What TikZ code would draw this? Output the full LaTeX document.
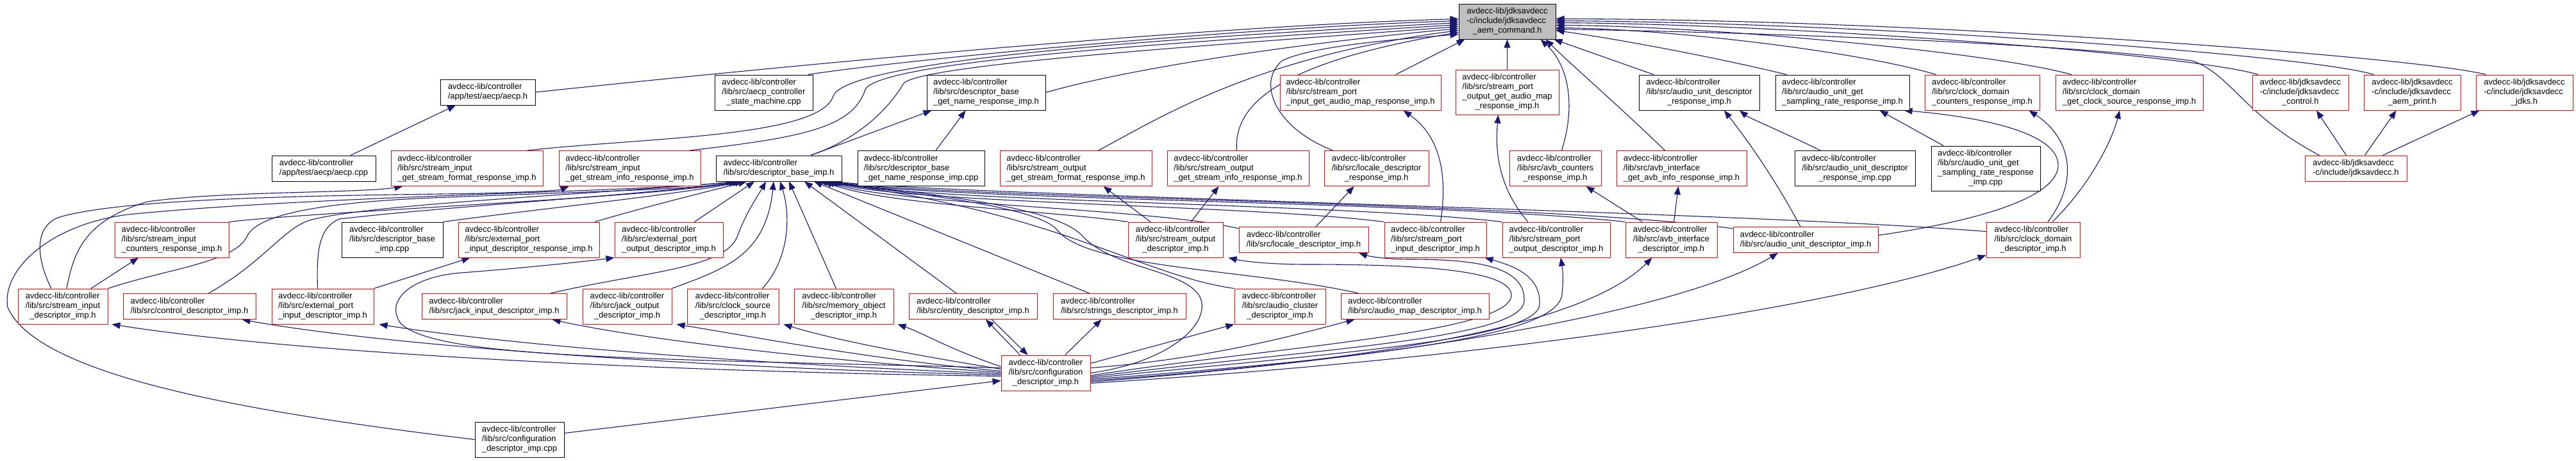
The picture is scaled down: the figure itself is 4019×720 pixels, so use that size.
\documentclass[tikz,border=0pt]{standalone}
\usepackage{fontspec}
\setmainfont{Liberation Sans}
\usetikzlibrary{arrows.meta,calc}
\pgfdeclarelayer{back}
\pgfdeclarelayer{edges}
\pgfsetlayers{back,edges,main}
\definecolor{edgeblue}{RGB}{25,25,112}
\definecolor{nodegray}{RGB}{191,191,191}
\definecolor{dxred}{RGB}{255,0,0}
\newcommand\dxl[2]{\begin{tabular}{@{}l@{}}#1\\\multicolumn{1}{@{}c@{}}{#2}\end{tabular}}
\begin{document}
\begin{tikzpicture}[x=1pt,y=-1pt,
  nd/.style={draw,rectangle,inner sep=0pt,line width=1pt,fill=white,font=\fontsize{13}{15}\selectfont},
  rn/.style={nd,draw=dxred},
  bn/.style={nd,draw=black},
  dep/.style={draw=edgeblue,line width=1.1pt,-{Triangle[length=13pt,width=10pt]}}]
\begin{pgfonlayer}{back}
\fill[white] (0,0) rectangle (4019,720);
\end{pgfonlayer}
\useasboundingbox (0,0) rectangle (4019,720);

% ---------- nodes ----------
\node[bn,fill=nodegray,minimum width=151pt,minimum height=55pt] (R) at (2351.5,33.5) {\dxl{avdecc-lib/jdksavdecc\\-c/include/jdksavdecc}{\_aem\_command.h}};

\node[bn,minimum width=148pt,minimum height=40pt] (aecph) at (761,144) {\dxl{avdecc-lib/controller}{/app/test/aecp/aecp.h}};
\node[bn,minimum width=153pt,minimum height=55pt] (aecpsm) at (1191.5,144.5) {\dxl{avdecc-lib/controller\\/lib/src/aecp\_controller}{\_state\_machine.cpp}};
\node[bn,minimum width=185pt,minimum height=55pt] (dbgn) at (1538.5,144.5) {\dxl{avdecc-lib/controller\\/lib/src/descriptor\_base}{\_get\_name\_response\_imp.h}};
\node[rn,minimum width=251pt,minimum height=55pt] (spigam) at (2122.5,144.5) {\dxl{avdecc-lib/controller\\/lib/src/stream\_port}{\_input\_get\_audio\_map\_response\_imp.h}};
\node[rn,minimum width=161pt,minimum height=70pt] (spogam) at (2351.5,144) {\dxl{avdecc-lib/controller\\/lib/src/stream\_port\\\_output\_get\_audio\_map}{\_response\_imp.h}};
\node[bn,minimum width=188pt,minimum height=55pt] (audresp) at (2651,144.5) {\dxl{avdecc-lib/controller\\/lib/src/audio\_unit\_descriptor}{\_response\_imp.h}};
\node[bn,minimum width=209pt,minimum height=55pt] (ausr) at (2874.5,144.5) {\dxl{avdecc-lib/controller\\/lib/src/audio\_unit\_get}{\_sampling\_rate\_response\_imp.h}};
\node[rn,minimum width=179pt,minimum height=55pt] (cdc) at (3092.5,144.5) {\dxl{avdecc-lib/controller\\/lib/src/clock\_domain}{\_counters\_response\_imp.h}};
\node[rn,minimum width=230pt,minimum height=55pt] (cdgcs) at (3322,144.5) {\dxl{avdecc-lib/controller\\/lib/src/clock\_domain}{\_get\_clock\_source\_response\_imp.h}};
\node[rn,minimum width=150pt,minimum height=55pt] (ctrl) at (3589,144.5) {\dxl{avdecc-lib/jdksavdecc\\-c/include/jdksavdecc}{\_control.h}};
\node[rn,minimum width=151pt,minimum height=55pt] (aemp) at (3763.5,144.5) {\dxl{avdecc-lib/jdksavdecc\\-c/include/jdksavdecc}{\_aem\_print.h}};
\node[rn,minimum width=151pt,minimum height=55pt] (jdks) at (3938.5,144.5) {\dxl{avdecc-lib/jdksavdecc\\-c/include/jdksavdecc}{\_jdks.h}};

\node[bn,minimum width=162pt,minimum height=40pt] (aecpcpp) at (505,263) {\dxl{avdecc-lib/controller}{/app/test/aecp/aecp.cpp}};
\node[rn,minimum width=237pt,minimum height=55pt] (sigsf) at (728.5,263) {\dxl{avdecc-lib/controller\\/lib/src/stream\_input}{\_get\_stream\_format\_response\_imp.h}};
\node[rn,minimum width=221pt,minimum height=55pt] (sigsi) at (982.5,263) {\dxl{avdecc-lib/controller\\/lib/src/stream\_input}{\_get\_stream\_info\_response\_imp.h}};
\node[bn,minimum width=196pt,minimum height=40pt] (dbi) at (1215,263) {\dxl{avdecc-lib/controller}{/lib/src/descriptor\_base\_imp.h}};
\node[bn,minimum width=198pt,minimum height=55pt] (dbgncpp) at (1437,263) {\dxl{avdecc-lib/controller\\/lib/src/descriptor\_base}{\_get\_name\_response\_imp.cpp}};
\node[rn,minimum width=237pt,minimum height=55pt] (sogsf) at (1678.5,263) {\dxl{avdecc-lib/controller\\/lib/src/stream\_output}{\_get\_stream\_format\_response\_imp.h}};
\node[rn,minimum width=221pt,minimum height=55pt] (sogsi) at (1931.5,263) {\dxl{avdecc-lib/controller\\/lib/src/stream\_output}{\_get\_stream\_info\_response\_imp.h}};
\node[rn,minimum width=163pt,minimum height=55pt] (ldr) at (2147.5,263) {\dxl{avdecc-lib/controller\\/lib/src/locale\_descriptor}{\_response\_imp.h}};
\node[rn,minimum width=143pt,minimum height=55pt] (avbc) at (2426.5,263) {\dxl{avdecc-lib/controller\\/lib/src/avb\_counters}{\_response\_imp.h}};
\node[rn,minimum width=203pt,minimum height=55pt] (avbi) at (2623.5,263) {\dxl{avdecc-lib/controller\\/lib/src/avb\_interface}{\_get\_avb\_info\_response\_imp.h}};
\node[bn,minimum width=188pt,minimum height=55pt] (audrespcpp) at (2894,263) {\dxl{avdecc-lib/controller\\/lib/src/audio\_unit\_descriptor}{\_response\_imp.cpp}};
\node[bn,minimum width=170pt,minimum height=70pt] (ausrcpp) at (3098,263) {\dxl{avdecc-lib/controller\\/lib/src/audio\_unit\_get\\\_sampling\_rate\_response}{\_imp.cpp}};
\node[rn,minimum width=159pt,minimum height=40pt] (jdksavdecc) at (3675.5,263) {\dxl{avdecc-lib/jdksavdecc}{-c/include/jdksavdecc.h}};

\node[rn,minimum width=178pt,minimum height=55pt] (sicr) at (268,374.5) {\dxl{avdecc-lib/controller\\/lib/src/stream\_input}{\_counters\_response\_imp.h}};
\node[bn,minimum width=158pt,minimum height=55pt] (dbcpp) at (612,374.5) {\dxl{avdecc-lib/controller\\/lib/src/descriptor\_base}{\_imp.cpp}};
\node[rn,minimum width=220pt,minimum height=55pt] (epidr) at (825,374.5) {\dxl{avdecc-lib/controller\\/lib/src/external\_port}{\_input\_descriptor\_response\_imp.h}};
\node[rn,minimum width=169pt,minimum height=55pt] (epod) at (1043.5,374.5) {\dxl{avdecc-lib/controller\\/lib/src/external\_port}{\_output\_descriptor\_imp.h}};
\node[rn,minimum width=148pt,minimum height=55pt] (sod) at (1834,374.5) {\dxl{avdecc-lib/controller\\/lib/src/stream\_output}{\_descriptor\_imp.h}};
\node[rn,minimum width=202pt,minimum height=40pt] (ldi) at (2034,374.5) {\dxl{avdecc-lib/controller}{/lib/src/locale\_descriptor\_imp.h}};
\node[rn,minimum width=159pt,minimum height=55pt] (spid) at (2239.5,374.5) {\dxl{avdecc-lib/controller\\/lib/src/stream\_port}{\_input\_descriptor\_imp.h}};
\node[rn,minimum width=168pt,minimum height=55pt] (spod) at (2428,374.5) {\dxl{avdecc-lib/controller\\/lib/src/stream\_port}{\_output\_descriptor\_imp.h}};
\node[rn,minimum width=143pt,minimum height=55pt] (aid) at (2607.5,374.5) {\dxl{avdecc-lib/controller\\/lib/src/avb\_interface}{\_descriptor\_imp.h}};
\node[rn,minimum width=226pt,minimum height=40pt] (aud) at (2817,374.5) {\dxl{avdecc-lib/controller}{/lib/src/audio\_unit\_descriptor\_imp.h}};
\node[rn,minimum width=146pt,minimum height=55pt] (cdd) at (3172,374.5) {\dxl{avdecc-lib/controller\\/lib/src/clock\_domain}{\_descriptor\_imp.h}};

\node[rn,minimum width=140pt,minimum height=55pt] (sid) at (98,478.5) {\dxl{avdecc-lib/controller\\/lib/src/stream\_input}{\_descriptor\_imp.h}};
\node[rn,minimum width=207pt,minimum height=40pt] (ctl) at (295.5,478.5) {\dxl{avdecc-lib/controller}{/lib/src/control\_descriptor\_imp.h}};
\node[rn,minimum width=159pt,minimum height=55pt] (epid) at (503.5,478.5) {\dxl{avdecc-lib/controller\\/lib/src/external\_port}{\_input\_descriptor\_imp.h}};
\node[rn,minimum width=226pt,minimum height=40pt] (jid) at (771,478.5) {\dxl{avdecc-lib/controller}{/lib/src/jack\_input\_descriptor\_imp.h}};
\node[rn,minimum width=139pt,minimum height=55pt] (jod) at (978.5,478.5) {\dxl{avdecc-lib/controller\\/lib/src/jack\_output}{\_descriptor\_imp.h}};
\node[rn,minimum width=143pt,minimum height=55pt] (csd) at (1143.5,478.5) {\dxl{avdecc-lib/controller\\/lib/src/clock\_source}{\_descriptor\_imp.h}};
\node[rn,minimum width=155pt,minimum height=55pt] (mod) at (1316.5,478.5) {\dxl{avdecc-lib/controller\\/lib/src/memory\_object}{\_descriptor\_imp.h}};
\node[rn,minimum width=200pt,minimum height=40pt] (ed) at (1518,478.5) {\dxl{avdecc-lib/controller}{/lib/src/entity\_descriptor\_imp.h}};
\node[rn,minimum width=207pt,minimum height=40pt] (sd) at (1746.5,478.5) {\dxl{avdecc-lib/controller}{/lib/src/strings\_descriptor\_imp.h}};
\node[rn,minimum width=142pt,minimum height=55pt] (acd) at (1997,478.5) {\dxl{avdecc-lib/controller\\/lib/src/audio\_cluster}{\_descriptor\_imp.h}};
\node[rn,minimum width=231pt,minimum height=40pt] (amd) at (2207.5,478.5) {\dxl{avdecc-lib/controller}{/lib/src/audio\_map\_descriptor\_imp.h}};

\node[rn,minimum width=139pt,minimum height=55pt] (config) at (1631.5,582.5) {\dxl{avdecc-lib/controller\\/lib/src/configuration}{\_descriptor\_imp.h}};
\node[bn,minimum width=139pt,minimum height=55pt] (configcpp) at (810.5,686.5) {\dxl{avdecc-lib/controller\\/lib/src/configuration}{\_descriptor\_imp.cpp}};

% ---------- edges ----------
\begin{pgfonlayer}{edges}
% into root, west side
\draw[dep] (aecph.east) .. controls (1300,95) and (1900,40) .. ($(R.west)+(0,-4)$);
\draw[dep] ($(aecpsm.north east)+(-8,0)$) .. controls (1400,95) and (1900,45) .. ($(R.west)+(0,-1)$);
\draw[dep] ($(sigsf.north east)+(-25,0)$) .. controls (1000,215) and (1280,215) .. (1300,150) .. controls (1320,95) and (1800,60) .. ($(R.west)+(0,2)$);
\draw[dep] ($(sigsi.north east)+(-18,0)$) .. controls (1250,215) and (1330,200) .. (1350,140) .. controls (1370,95) and (1850,65) .. ($(R.west)+(0,5)$);
\draw[dep] ($(dbi.north)+(50,0)$) .. controls (1330,220) and (1380,180) .. (1410,130) .. controls (1440,100) and (1900,70) .. ($(R.west)+(0,8)$);
\draw[dep] (dbgn.east) .. controls (1750,110) and (2000,70) .. ($(R.west)+(0,11)$);
\draw[dep] ($(sogsf.north)+(35,0)$) .. controls (1800,190) and (1950,90) .. ($(R.west)+(0,14)$);
\draw[dep] ($(sogsi.north)+(-2,0)$) .. controls (1925,170) and (1980,100) .. ($(R.west)+(0,17)$);
\draw[dep] ($(ldr.north)+(-68,0)$) .. controls (1990,200) and (1960,130) .. (2000,95) .. controls (2050,70) and (2200,60) .. ($(R.west)+(0,20)$);
% into root, bottom
\draw[dep] ($(spigam.north)+(55,0)$) -- ($(R.south west)+(10,0)$);
\draw[dep] (spogam) -- (R);
\draw[dep] ($(avbc.north)+(10,0)$) .. controls (2460,160) and (2445,100) .. ($(R.south)+(52,0)$);
\draw[dep] ($(avbi.north)+(-26,0)$) .. controls (2520,160) and (2450,100) .. ($(R.south)+(60,0)$);
\draw[dep] ($(audresp.north)+(-71,0)$) -- ($(R.south east)+(-3,0)$);
% into root, east side
\draw[dep] ($(ausr.north)+(-87,0)$) .. controls (2700,95) and (2550,65) .. ($(R.east)+(0,14)$);
\draw[dep] ($(cdc.north)+(-72,0)$) .. controls (2900,80) and (2600,45) .. ($(R.east)+(0,10)$);
\draw[dep] ($(cdgcs.north)+(-90,0)$) .. controls (3100,80) and (2650,40) .. ($(R.east)+(0,6)$);
\draw[dep] ($(ctrl.north)+(-66,0)$) .. controls (3420,85) and (2800,38) .. ($(R.east)+(0,2)$);
\draw[dep] ($(aemp.north)+(-60,0)$) .. controls (3600,85) and (2900,35) .. ($(R.east)+(0,-1)$);
\draw[dep] ($(jdks.north)+(-60,0)$) .. controls (3780,90) and (3000,30) .. ($(R.east)+(0,-4)$);
\draw[dep] ($(jdksavdecc.north)+(-57,0)$) .. controls (3500,180) and (3480,115) .. (3420,95) .. controls (3200,65) and (2700,50) .. ($(R.east)+(0,12)$);

% upper level
\draw[dep] ($(aecpcpp.north)+(42,0)$) -- ($(aecph.south)+(-50,0)$);
\draw[dep] ($(dbi.north)+(50,0)$) -- ($(dbgn.south)+(-85,0)$);
\draw[dep] ($(dbgncpp.north)+(23,0)$) -- ($(dbgn.south)+(-32,0)$);
\draw[dep] ($(sod.north)+(-39,0)$) -- ($(sogsf.south)+(43,0)$);
\draw[dep] ($(sod.north)+(24,0)$) -- ($(sogsi.south)+(-30,0)$);
\draw[dep] ($(ldi.north)+(19,0)$) -- ($(ldr.south)+(-35,0)$);
\draw[dep] ($(spid.north)+(8,0)$) .. controls (2258,280) and (2250,215) .. ($(spigam.south)+(67,0)$);
\draw[dep] ($(spod.north)+(-44,0)$) .. controls (2335,290) and (2333,230) .. ($(spogam.south)+(-14,0)$);
\draw[dep] ($(aid.north)+(-45,0)$) -- ($(avbc.south)+(48,0)$);
\draw[dep] ($(aid.north)+(4,0)$) -- ($(avbi.south)+(-5,0)$);
\draw[dep] ($(aud.north)+(-8,0)$) .. controls (2775,290) and (2735,230) .. ($(audresp.south)+(39,0)$);
\draw[dep] ($(audrespcpp.north)+(-54,0)$) .. controls (2790,210) and (2730,185) .. ($(audresp.south)+(63,0)$);
\draw[dep] ($(ausrcpp.north)+(-66,0)$) -- ($(ausr.south)+(58,0)$);
\draw[dep] ($(aud.east)+(0,-7)$) .. controls (3120,340) and (3215,300) .. (3211,255) .. controls (3205,200) and (3060,180) .. ($(ausr.south)+(96,0)$);
\draw[dep] ($(cdd.north)+(23,0)$) .. controls (3245,280) and (3230,215) .. ($(cdc.south)+(73,0)$);
\draw[dep] ($(cdd.north)+(30,0)$) .. controls (3260,290) and (3295,220) .. ($(cdgcs.south)+(-15,0)$);
\draw[dep] ($(jdksavdecc.north)+(-15,0)$) -- ($(ctrl.south)+(25,0)$);
\draw[dep] ($(jdksavdecc.north)+(14,0)$) -- ($(aemp.south)+(-25,0)$);
\draw[dep] ($(jdksavdecc.north)+(42,0)$) -- ($(jdks.south)+(-70,0)$);

% left side
\draw[dep] ($(sid.north)+(44,0)$) -- ($(sicr.south)+(-52,0)$);
\draw[dep] ($(sid.north)+(6,0)$) .. controls (115,395) and (130,345) .. (230,315) .. controls (350,298) and (560,302) .. ($(sigsf.south)+(-100,0)$);
\draw[dep] ($(sid.north)+(-18,0)$) .. controls (55,400) and (55,355) .. (90,340) .. controls (200,305) and (600,305) .. (750,302) .. controls (820,300) and (870,298) .. ($(sigsi.south)+(-95,0)$);
\draw[dep] (sid.north east) .. controls (260,420) and (365,410) .. (385,370) .. controls (400,335) and (500,315) .. (700,308) .. controls (900,300) and (1100,295) .. ($(dbi.south)+(-65,0)$);
\draw[dep] ($(ctl.north)+(30,0)$) .. controls (410,410) and (440,360) .. (480,345) .. controls (560,320) and (900,305) .. ($(dbi.south)+(-62,0)$);
\draw[dep] ($(epid.north)+(-8,0)$) .. controls (494,400) and (495,355) .. (530,342) .. controls (700,322) and (1000,305) .. ($(dbi.south)+(-60,0)$);
\draw[dep] (sicr.north east) .. controls (500,330) and (1000,310) .. ($(dbi.south)+(-58,0)$);
\draw[dep] (dbcpp.north east) .. controls (850,325) and (1050,305) .. ($(dbi.south)+(-55,0)$);
\draw[dep] (configcpp.west) .. controls (400,645) and (60,590) .. (12,480) .. controls (2,420) and (80,350) .. (200,335) .. controls (500,305) and (1000,300) .. ($(dbi.south)+(-68,0)$);
\draw[dep] (epid.north east) -- ($(epidr.south west)+(19,0)$);
\draw[dep] ($(epidr.north)+(103,0)$) .. controls (1000,325) and (1100,300) .. ($(dbi.south)+(-50,0)$);
\draw[dep] ($(epod.north)+(40,0)$) -- ($(dbi.south)+(-38,0)$);
\draw[dep] ($(jid.north)+(88,0)$) .. controls (1000,425) and (1130,420) .. (1150,370) .. controls (1165,330) and (1180,310) .. ($(dbi.south)+(-20,0)$);
\draw[dep] (jod.north east) .. controls (1130,420) and (1195,400) .. ($(dbi.south)+(-8,0)$);
\draw[dep] ($(csd.north)+(46,0)$) .. controls (1235,400) and (1232,330) .. ($(dbi.south)+(2,0)$);
\draw[dep] ($(mod.north)+(-12,0)$) -- ($(dbi.south)+(16,0)$);
\draw[dep] ($(ed.north)+(-26,0)$) -- ($(dbi.south)+(40,0)$);
\draw[dep] ($(sd.north)+(-47,0)$) -- ($(dbi.south)+(55,0)$);
\draw[dep] (acd.north west) .. controls (1780,430) and (1650,330) .. ($(dbi.south)+(62,0)$);
\draw[dep] ($(amd.north)+(-88,0)$) .. controls (1950,420) and (1700,420) .. (1650,360) .. controls (1620,320) and (1400,300) .. ($(dbi.south)+(66,0)$);
\draw[dep] (config.east) .. controls (1830,565) and (1895,500) .. (1870,460) .. controls (1840,420) and (1740,420) .. (1690,370) .. controls (1650,320) and (1420,300) .. ($(dbi.south)+(68,0)$);
% right group into descriptor_base_imp.h
\draw[dep] (sod.north west) .. controls (1650,330) and (1380,320) .. ($(dbi.south)+(70,0)$);
\draw[dep] ($(ldi.north west)+(0,3)$) .. controls (1800,325) and (1400,320) .. ($(dbi.south)+(74,0)$);
\draw[dep] (spid.north west) .. controls (1950,320) and (1420,318) .. ($(dbi.south)+(78,0)$);
\draw[dep] (spod.north west) .. controls (2100,318) and (1440,315) .. ($(dbi.south)+(80,0)$);
\draw[dep] (aid.north west) .. controls (2250,315) and (1460,312) .. ($(dbi.south)+(82,0)$);
\draw[dep] ($(aud.north west)+(0,3)$) .. controls (2400,315) and (1480,310) .. ($(dbi.south)+(84,0)$);
\draw[dep] ($(cdd.north west)+(0,15)$) .. controls (2700,330) and (1500,305) .. ($(dbi.south)+(86,0)$);

% configuration_descriptor_imp.h
\draw[dep] ($(configcpp.east)+(0,-10)$) -- ($(config.west)+(0,12)$);
\draw[dep] ($(config.west)+(0,-10)$) .. controls (1480,545) and (1440,520) .. ($(mod.south east)+(6,0)$);
\draw[dep] ($(config.west)+(0,-6)$) .. controls (1400,550) and (1300,530) .. ($(csd.south east)+(7,0)$);
\draw[dep] ($(config.west)+(0,-3)$) .. controls (1350,560) and (1200,530) .. ($(jod.south east)+(7,0)$);
\draw[dep] ($(config.west)+(0,-1)$) .. controls (1300,565) and (1000,530) .. ($(jid.south east)+(-23,0)$);
\draw[dep] ($(config.west)+(0,1)$) .. controls (1200,570) and (800,540) .. ($(epid.south east)+(8,0)$);
\draw[dep] ($(config.west)+(0,3)$) .. controls (1100,575) and (600,540) .. ($(ctl.south east)+(-22,0)$);
\draw[dep] ($(config.west)+(0,5)$) .. controls (1000,580) and (450,550) .. ($(sid.south east)+(6,0)$);
\draw[dep] ($(config.west)+(0,-8)$) .. controls (1000,560) and (680,560) .. (625,505) .. controls (600,470) and (640,432) .. (720,426) .. controls (800,420) and (900,410) .. (epod.south west);
\draw[dep] ($(config.north)+(-40,0)$) -- ($(ed.south)+(20,0)$);
\draw[dep] ($(ed.south)+(29,0)$) -- ($(config.north)+(-28,0)$);
\draw[dep] ($(config.north)+(30,0)$) -- ($(sd.south)+(-28,0)$);
\draw[dep] ($(config.east)+(0,-15)$) -- (acd.south west);
\draw[dep] ($(config.east)+(0,-8)$) .. controls (1900,560) and (2050,515) .. ($(amd.south west)+(22,0)$);
\draw[dep] ($(config.east)+(0,4)$) .. controls (2000,540) and (2360,520) .. (2358,460) .. controls (2355,420) and (2200,413) .. (2040,413) .. controls (1980,413) and (1940,408) .. ($(sod.south east)+(8,0)$);
\draw[dep] ($(config.east)+(0,6)$) .. controls (2050,545) and (2375,530) .. (2378,470) .. controls (2380,415) and (2300,405) .. (2200,405) .. controls (2160,405) and (2135,400) .. ($(ldi.south)+(86,0)$);
\draw[dep] ($(config.east)+(0,8)$) .. controls (2100,550) and (2400,530) .. (2402,475) .. controls (2404,430) and (2360,415) .. ($(spid.south)+(77,0)$);
\draw[dep] ($(config.east)+(0,10)$) .. controls (2200,555) and (2430,520) .. (2437,460) .. controls (2440,430) and (2437,415) .. ($(spod.south)+(7,0)$);
\draw[dep] ($(config.east)+(0,12)$) .. controls (2200,560) and (2480,500) .. ($(aid.south)+(-30,0)$);
\draw[dep] ($(config.east)+(0,14)$) .. controls (2300,550) and (2650,470) .. ($(aud.south)+(-43,0)$);
\draw[dep] ($(config.east)+(0,16)$) .. controls (2400,555) and (2900,470) .. ($(cdd.south west)+(0,-4)$);
\end{pgfonlayer}
\end{tikzpicture}
\end{document}
